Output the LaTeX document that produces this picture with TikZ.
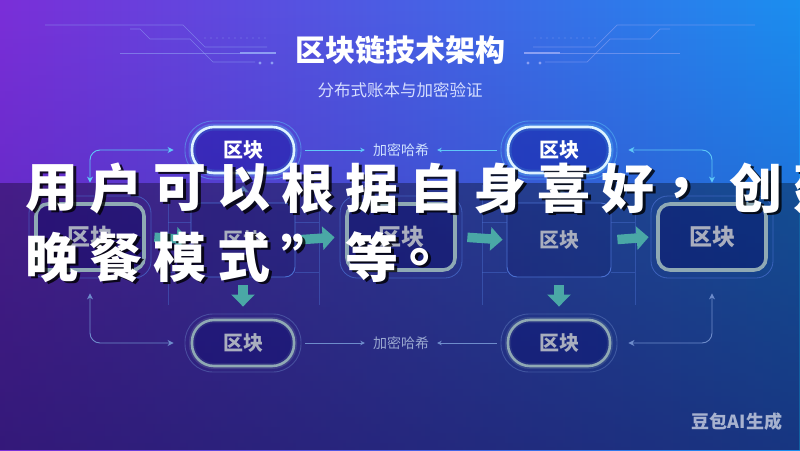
\documentclass[tikz,border=0pt]{standalone}
\usepackage{fontspec}
\setmainfont{Noto Sans CJK SC}
\newfontfamily\cjk{Noto Sans CJK SC}
\usetikzlibrary{arrows.meta,calc,fadings}
\definecolor{bgUL}{HTML}{7B2FD9}
\definecolor{bgUR}{HTML}{1A8FF0}
\definecolor{bgBot}{HTML}{2A1E9A}
\definecolor{cyanline}{HTML}{5EC8F8}
\definecolor{pillwhite}{HTML}{DDF4FF}
\definecolor{grayteal}{HTML}{8FA9B4}
\definecolor{graytext}{HTML}{A9AEBE}
\definecolor{tealarrow}{HTML}{4AA8A6}
\definecolor{uparrowc}{HTML}{6FAFD0}
\definecolor{bottomline}{HTML}{6E8CCB}
\definecolor{panelc}{HTML}{4A6FD0}
\definecolor{decoc}{HTML}{93A6F5}
\definecolor{subc}{HTML}{D6DEFF}
\definecolor{hashtop}{HTML}{CFE2FF}
\definecolor{hashbot}{HTML}{9AA8D0}
\tikzset{
  pilltop/.style={draw=pillwhite, line width=2.6pt, rounded corners=22pt,
    minimum width=102pt, minimum height=46pt, fill=blue!55!black, fill opacity=0.35,
    text opacity=1, text=white, font=\cjk\bfseries\fontsize{20}{22}\selectfont,
    preaction={draw=cyanline, line width=7pt, opacity=0.3}},
  pilltopouter/.style={draw=cyanline, line width=0.9pt, opacity=0.45, rounded corners=28pt,
    minimum width=116pt, minimum height=58pt},
  pillbot/.style={draw=grayteal, line width=2.6pt, rounded corners=22pt,
    minimum width=102pt, minimum height=46pt, fill=blue!40!black, fill opacity=0.3,
    text opacity=1, text=graytext, font=\cjk\bfseries\fontsize{20}{22}\selectfont,
    preaction={draw=grayteal, line width=6pt, opacity=0.2}},
  pillbotouter/.style={draw=bottomline, line width=0.9pt, opacity=0.4, rounded corners=28pt,
    minimum width=116pt, minimum height=58pt},
  bignode/.style={draw=grayteal, line width=3.6pt, rounded corners=12pt,
    minimum width=108pt, minimum height=66pt, fill=blue!35!black, fill opacity=0.35,
    text opacity=1, text=graytext, font=\cjk\bfseries\fontsize{23}{25}\selectfont},
  bigouter/.style={draw=panelc, line width=0.8pt, opacity=0.7, rounded corners=17pt,
    minimum width=122pt, minimum height=82pt},
  smallbox/.style={draw=panelc, line width=0.9pt, rounded corners=10pt,
    minimum width=104pt, minimum height=74pt, fill=blue!30!black, fill opacity=0.15,
    text opacity=1, text=graytext, font=\cjk\bfseries\fontsize{20}{22}\selectfont},
  hashlabel/.style={font=\cjk\fontsize{14}{16}\selectfont, inner sep=3pt},
  hashline/.style={line width=0.9pt, -{Stealth[length=4.5pt,width=4.5pt]}},
  sideconn/.style={line width=0.9pt, rounded corners=10pt,
    {Stealth[length=6pt,width=6pt]}-{Stealth[length=6pt,width=6pt]}},
  blockarrow/.style={draw=tealarrow, line width=9.5pt,
    -{Triangle[length=12pt,width=23pt]}},
  uparrow/.style={draw=uparrowc, line width=4pt, opacity=0.45,
    -{Triangle[length=7pt,width=12pt]}},
  deco/.style={draw=decoc, line width=0.7pt, opacity=0.55},
  panelline/.style={draw=panelc, line width=0.6pt, opacity=0.45},
  bigchar/.style={text=white, font=\cjk\bfseries\fontsize{53}{53}\selectfont, inner sep=0pt},
  shadowchar/.style={text=black, text opacity=0.8, font=\cjk\bfseries\fontsize{53}{53}\selectfont, inner sep=0pt}
}
\begin{document}
\begin{tikzpicture}[x=1pt,y=-1pt]
\useasboundingbox (0,0) rectangle (800,450);
% background
\shade[left color=bgUL, right color=bgUR] (0,0) rectangle (800,450);
\fill[bgBot, path fading=north, opacity=0.55] (0,0) rectangle (800,450);
\fill[black, opacity=0.33] (0,183) rectangle (800,450);
% decorations near the title
\foreach \side in {0,1}{
  \begin{scope}[shift={(800*\side,0)}, xscale={1-2*\side}]
    \draw[deco] (45,25) -- (183,25) -- (205,47) -- (267,47);
    \draw[deco] (130,29) -- (140,29) -- (150,39) -- (190,39) -- (213,62) -- (255,62);
    \draw[deco] (120,53) -- (240,53);
    \draw[draw=decoc, line width=1.8pt, opacity=0.9] (240,53) -- (276,53);
    \foreach \k in {0,...,10} \fill[decoc, opacity=0.3] (205+6*\k,38) circle (0.8);
    \fill[decoc, opacity=0.9] (260,63) circle (1.7);
    \fill[decoc, opacity=0.9] (272,63) circle (1.7);
  \end{scope}
}
% titles
\node[text=white, font=\cjk\bfseries\fontsize{30}{36}\selectfont] (title) at (400,50) {区块链技术架构};
\node[text=subc, font=\cjk\fontsize{16.5}{20}\selectfont] (sub) at (400,90) {分布式账本与加密验证};
% faint panel lines
\foreach \xa/\xb in {168/319,482/635}{
  \draw[panelline] (\xa,185) -- (\xa,305);
  \draw[panelline] (\xb,185) -- (\xb,305);
}
\draw[panelline] (168,222) -- (191,222);
\draw[panelline] (168,272) -- (191,272);
\draw[panelline] (295,222) -- (319,222);
\draw[panelline] (295,272) -- (319,272);
\draw[panelline] (482,222) -- (507,222);
\draw[panelline] (482,272) -- (507,272);
\draw[panelline] (611,222) -- (635,222);
\draw[panelline] (611,272) -- (635,272);
% top pills
\node[pilltopouter] (tlo) at (243,150) {};
\node[pilltop] (tl) at (243,150) {区块};
\node[pilltopouter] (tro) at (559,150) {};
\node[pilltop] (tr) at (559,150) {区块};
% bottom pills
\node[pillbotouter] (blo) at (243,343) {};
\node[pillbot] (bl) at (243,343) {区块};
\node[pillbotouter] (bro) at (559,343) {};
\node[pillbot] (br) at (559,343) {区块};
% hash labels
\node[hashlabel, text=hashtop] (h1) at (401,150) {加密哈希};
\node[hashlabel, text=hashbot] (h2) at (401,343) {加密哈希};
\draw[hashline, draw=cyanline, shorten <=4pt, shorten >=5pt] (tlo.east) -- (h1.west);
\draw[hashline, draw=cyanline, shorten <=4pt, shorten >=5pt] (tro.west) -- (h1.east);
\draw[hashline, draw=bottomline, shorten <=4pt, shorten >=5pt] (blo.east) -- (h2.west);
\draw[hashline, draw=bottomline, shorten <=4pt, shorten >=5pt] (bro.west) -- (h2.east);
% middle row
\node[bigouter] (bLo) at (90,237) {};
\node[bignode] (bL) at (90,237) {区块};
\node[bigouter] (bMo) at (401,237) {};
\node[bignode] (bM) at (401,237) {区块};
\node[bigouter] (bRo) at (712,237) {};
\node[bignode] (bR) at (712,237) {区块};
\node[smallbox] (sL) at (243,240) {区块};
\node[smallbox] (sR) at (559,240) {区块};
% block arrows
\draw[blockarrow, shorten <=3pt, shorten >=2pt] (bLo.east) -- (sL.west);
\draw[blockarrow, shorten <=6pt, shorten >=5pt] (sL.east) -- (bMo.west);
\draw[blockarrow, shorten <=5pt, shorten >=4pt] (bMo.east) -- (sR.west);
\draw[blockarrow, shorten <=6pt, shorten >=2pt] (sR.east) -- (bRo.west);
\draw[blockarrow, shorten <=8pt, shorten >=7pt] (sL.south) -- (blo.north);
\draw[blockarrow, shorten <=8pt, shorten >=7pt] (sR.south) -- (bro.north);
\draw[uparrow, shorten <=3pt, shorten >=6pt] (sL.north) -- (tlo.south);
\draw[uparrow, shorten <=3pt, shorten >=6pt] (sR.north) -- (tro.south);
% side connectors
\draw[sideconn, draw=cyanline, shorten <=13pt, shorten >=11pt] (bLo.north) |- (tlo.west);
\draw[sideconn, draw=cyanline, shorten <=13pt, shorten >=11pt] (bRo.north) |- (tro.east);
\draw[sideconn, draw=bottomline, shorten <=15pt, shorten >=11pt] (bLo.south) |- (blo.west);
\draw[sideconn, draw=bottomline, shorten <=15pt, shorten >=11pt] (bRo.south) |- (bro.east);
% overlaid big text
\foreach \c [count=\i] in {用,户,可,以,根,据,自,身,喜,好,，,创,建}{
  \node[shadowchar] (sa\i) at ({52+64*(\i-1)+2.5},190.5) {\c};
  \node[bigchar] (ca\i) at ({52+64*(\i-1)},188) {\c};
}
\foreach \c [count=\i] in {晚,餐,模,式,”,等,。}{
  \node[shadowchar] (sb\i) at ({52+64*(\i-1)+2.5},259.5) {\c};
  \node[bigchar] (cb\i) at ({52+64*(\i-1)},257) {\c};
}
% watermark
\node[text=white, opacity=0.62, font=\cjk\bfseries\fontsize{18}{20}\selectfont] (wm) at (737,422) {豆包AI生成};
\end{tikzpicture}
\end{document}
